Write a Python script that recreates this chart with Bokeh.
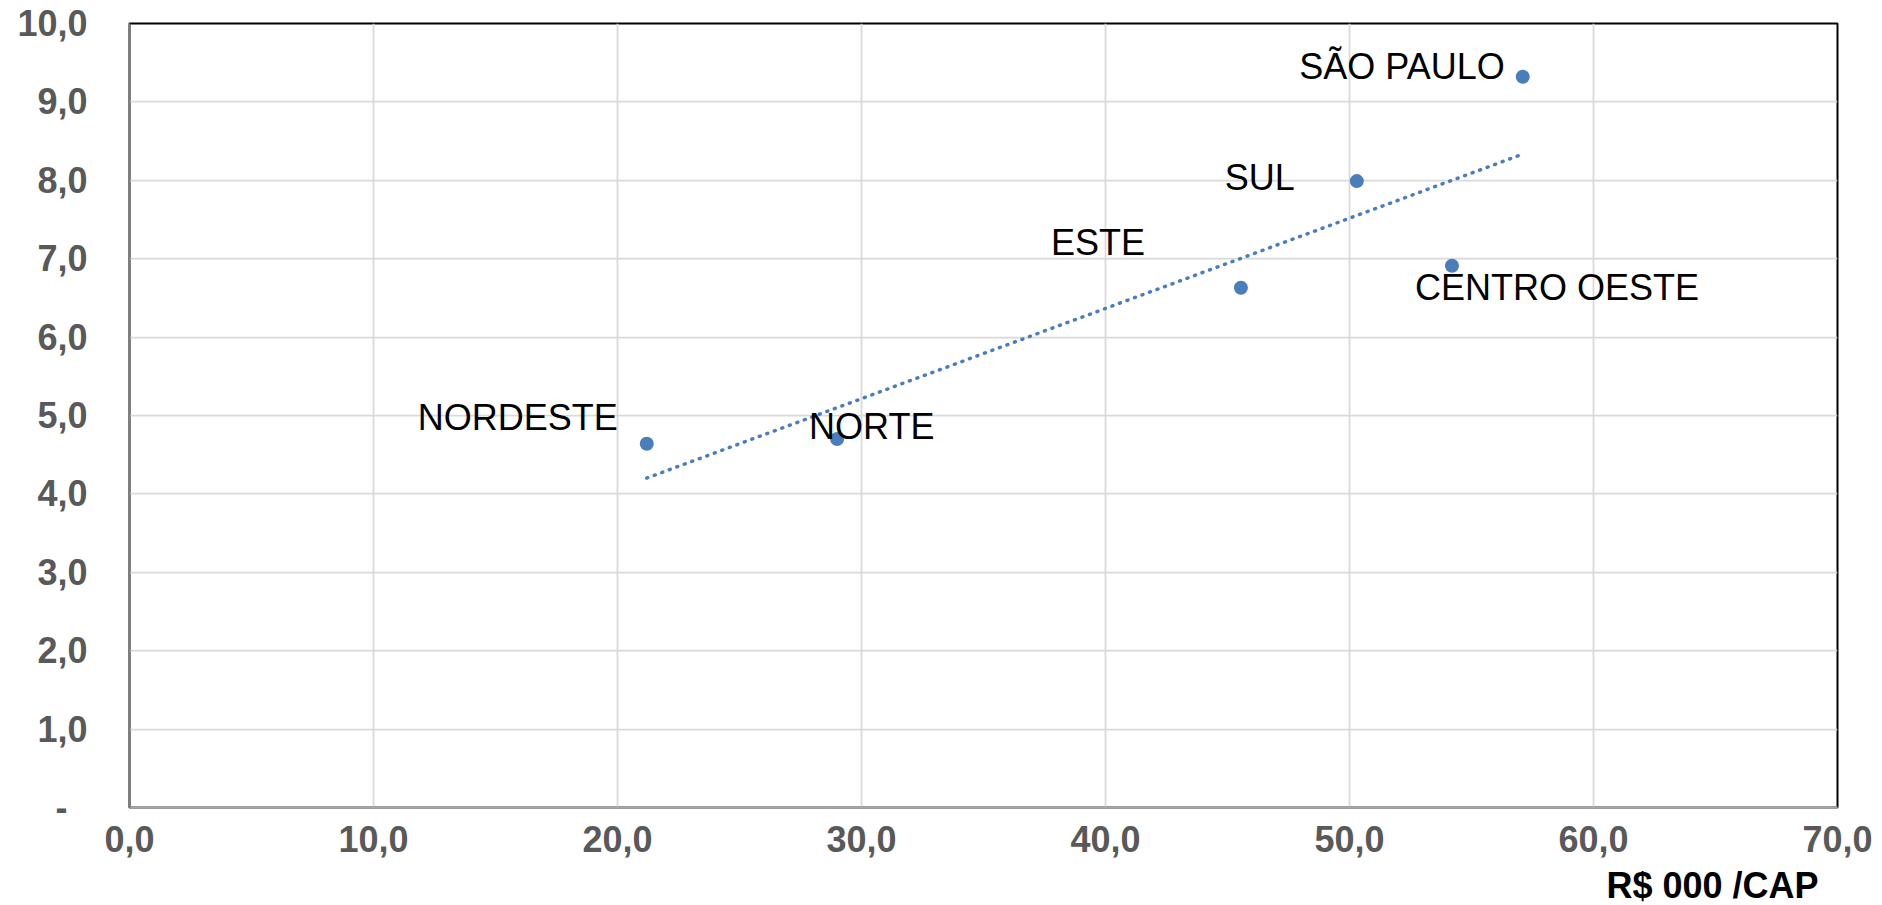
import numpy as np
from bokeh.plotting import figure
from bokeh.models import ColumnDataSource, FixedTicker, Range1d, Label
from bokeh.core.properties import value
from bokeh.embed import file_html
from bokeh.resources import INLINE

# ---- data ----
regions = ["NORDESTE", "NORTE", "ESTE", "SUL", "CENTRO OESTE", "SÃO PAULO"]
income = [21.2, 29.0, 45.55, 50.3, 54.2, 57.1]      # R$ 000 / cap
values = [4.64, 4.70, 6.63, 7.99, 6.91, 9.32]

x_ticks = [0, 10, 20, 30, 40, 50, 60, 70]
x_tick_labels = ["0,0", "10,0", "20,0", "30,0", "40,0", "50,0", "60,0", "70,0"]
y_ticks = [0, 1, 2, 3, 4, 5, 6, 7, 8, 9, 10]
y_tick_labels = ["-\u00a0\u00a0", "1,0", "2,0", "3,0", "4,0", "5,0", "6,0", "7,0", "8,0", "9,0", "10,0"]
x_title = "R$ 000 /CAP"

# label placement (screen px offsets from each point) -- styling only
label_align = ["right", "left", "right", "right", "left", "right"]
label_dx = [-29, -28, -96, -62, -37, -18]
label_dy = [-26, -13, -45, -4, 22, -10]

FONT = "Liberation Sans"
BLUE = "#4a7ebb"

p = figure(width=1882, height=905, output_backend="svg", toolbar_location=None,
           x_range=Range1d(0, 70), y_range=Range1d(0, 10),
           min_border_left=129, min_border_right=45, min_border_top=23, min_border_bottom=98)

p.background_fill_color = "white"
p.border_fill_color = "white"
p.outline_line_color = "black"
p.outline_line_width = 2

# axes
p.xaxis.ticker = FixedTicker(ticks=x_ticks)
p.yaxis.ticker = FixedTicker(ticks=y_ticks)
p.xaxis.major_label_overrides = {t: l for t, l in zip(x_ticks, x_tick_labels)}
p.yaxis.major_label_overrides = {t: l for t, l in zip(y_ticks, y_tick_labels)}
for ax in (p.xaxis, p.yaxis):
    ax.major_tick_line_color = None
    ax.minor_tick_line_color = None
    ax.major_tick_out = 0
    ax.major_tick_in = 0
    ax.major_label_text_font = FONT
    ax.major_label_text_font_size = "36px"
    ax.major_label_text_font_style = "bold"
    ax.major_label_text_color = "#595959"
p.xaxis.major_label_standoff = 18
p.yaxis.major_label_standoff = 42
p.xaxis.axis_line_color = "#a6a6a6"
p.xaxis.axis_line_width = 2.5
p.yaxis.axis_line_color = "#7f7f7f"
p.yaxis.axis_line_width = 2

# grid
p.xgrid.ticker = FixedTicker(ticks=x_ticks)
p.ygrid.ticker = FixedTicker(ticks=y_ticks)
for g in (p.xgrid, p.ygrid):
    g.grid_line_color = "#d9d9d9"
    g.grid_line_width = 1.75

# trendline (linear fit of the points)
slope, intercept = np.polyfit(income, values, 1)
tx = [min(income), max(income)]
ty = [slope * v + intercept for v in tx]
p.line(tx, ty, line_color=BLUE, line_width=3.5, line_dash="1 7", line_cap="round")

src = ColumnDataSource(dict(x=income, y=values, name=regions,
                            align=label_align, dx=label_dx, dy=label_dy))
p.scatter("x", "y", source=src, size=14, fill_color=BLUE, line_color=None)

p.text("x", "y", text="name", source=src, text_align="align", text_baseline="alphabetic",
       x_offset="dx", y_offset="dy", text_font=value(FONT), text_font_size="36px",
       text_color="black")

p.add_layout(Label(x=70, y=0, text=x_title, x_offset=-19, y_offset=-78,
                   text_align="right", text_baseline="alphabetic",
                   text_font=FONT, text_font_size="36px", text_font_style="bold",
                   text_color="black"), "below")

open("out.html", "w").write(file_html(p, INLINE))
